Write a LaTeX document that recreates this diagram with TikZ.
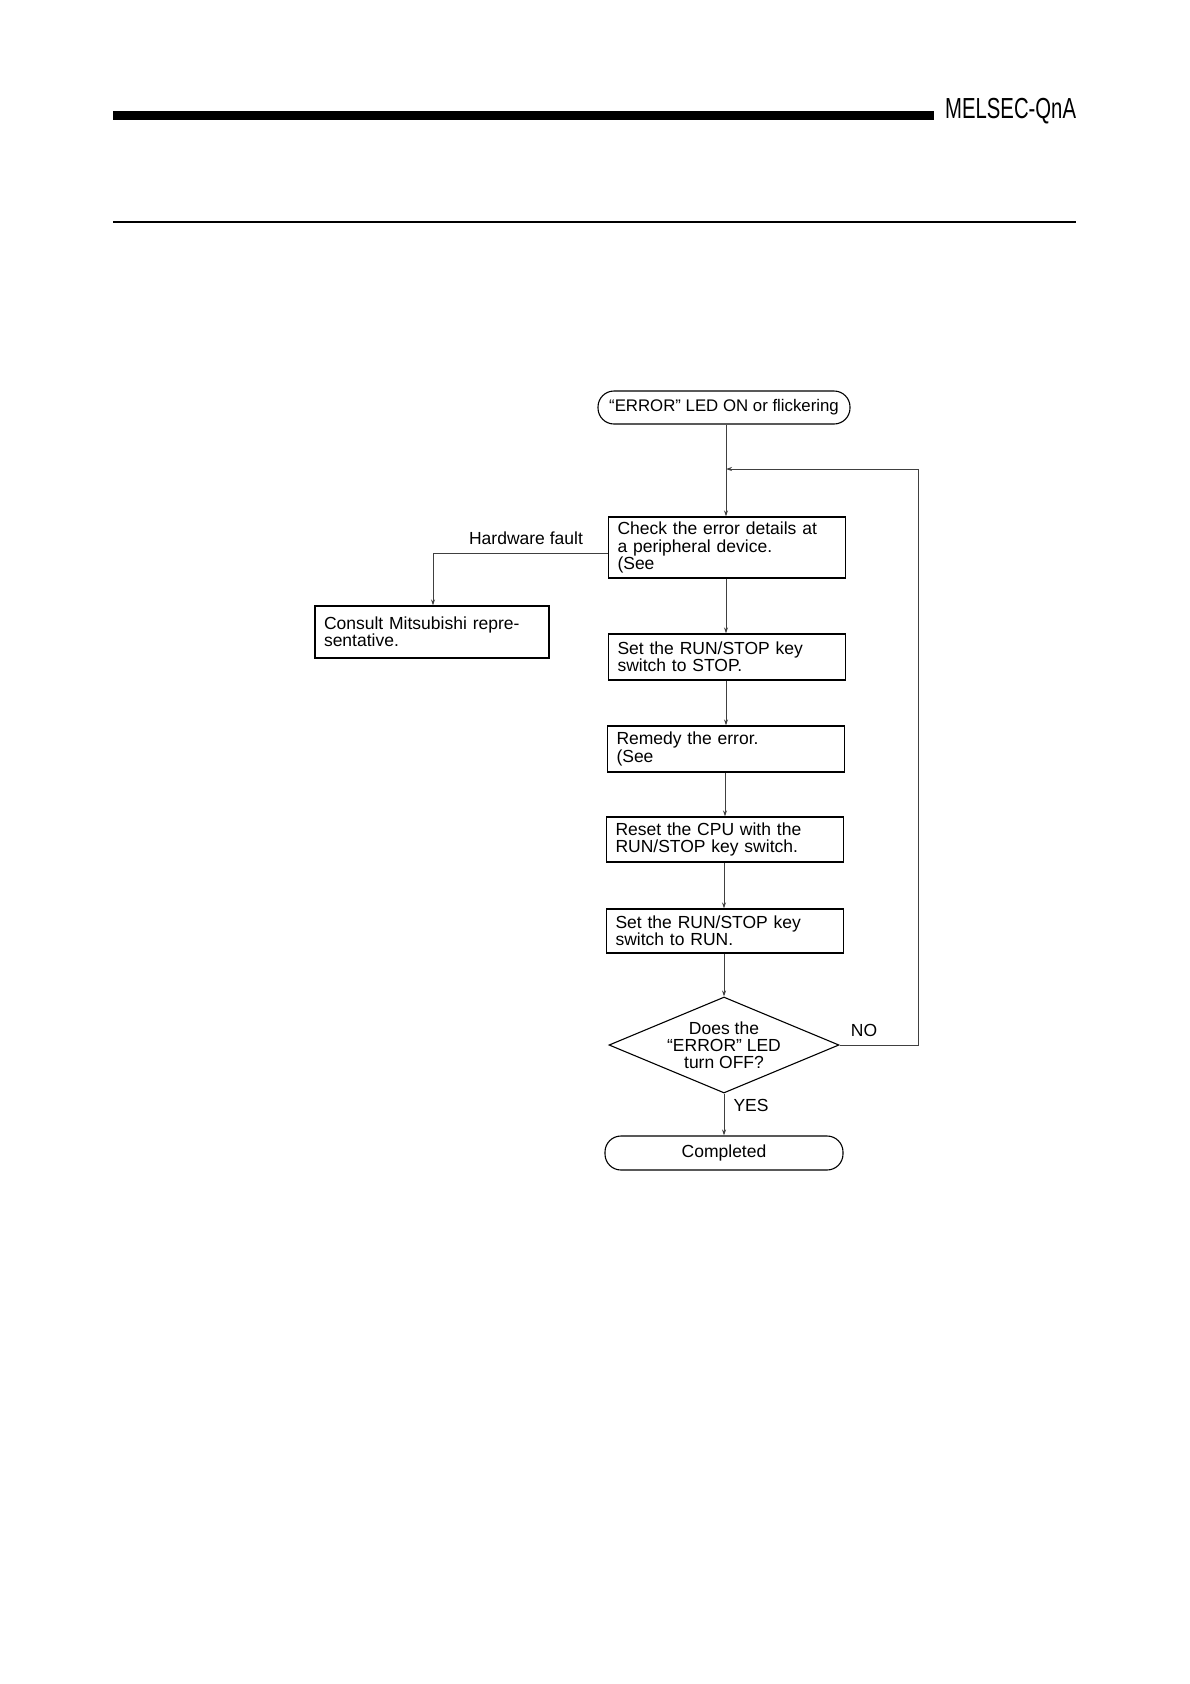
\documentclass[tikz,border=0pt]{standalone}
\usepackage{fontspec}
\setmainfont{Liberation Sans}
\usetikzlibrary{arrows.meta,shapes.geometric}
\begin{document}
\begin{tikzpicture}[x=1pt,y=-1pt,
  every node/.style={font=\fontsize{17.5}{17.2}\selectfont},
  procbox/.style={draw=black,line width=1.4pt,rectangle,inner xsep=9pt,inner ysep=0pt,align=left,text width=#1},
  term/.style={draw=black,line width=1.1pt,rectangle,rounded corners=16pt,inner sep=0pt},
  decision/.style={draw=black,line width=1.1pt,diamond,aspect=2.4,inner sep=0pt,align=center,minimum width=230pt,minimum height=96pt},
  conn/.style={draw=black!75,line width=0.8pt,-{Stealth[length=6pt,width=4pt]}},
  plain/.style={draw=black!75,line width=0.8pt},
  lbl/.style={inner sep=0pt}
]
\useasboundingbox (0,0) rectangle (1190,1684);
% header
\fill[black] (113,111) rectangle (934,120);
\node[lbl,anchor=west] (hdr) at (945,111) {\scalebox{0.7}[1]{\fontsize{29}{29}\selectfont MELSEC-QnA}};
\draw[line width=1.6pt] (113,222) -- (1076,222);

% nodes
\node[term,minimum width=252pt,minimum height=33pt,font=\fontsize{16.8}{17}\selectfont] (start) at (724,407.5) {“ERROR” LED ON or flickering};
\node[procbox=219pt,minimum height=61pt] (b1) at (727,547.5) {Check the error details at\\a peripheral device.\\(See};
\node[procbox=216pt,minimum height=52pt] (cons) at (432,632) {Consult Mitsubishi repre-\\sentative.\\[9pt]};
\node[procbox=219pt,minimum height=46pt] (b2) at (727,657) {Set the RUN/STOP key\\switch to STOP.};
\node[procbox=219pt,minimum height=46pt] (b3) at (726,749) {Remedy the error.\\(See};
\node[procbox=219pt,minimum height=45pt] (b4) at (725,839.5) {Reset the CPU with the\\RUN/STOP key switch.};
\node[procbox=219pt,minimum height=44pt] (b5) at (725,931) {Set the RUN/STOP key\\switch to RUN.};
\node[decision] (dec) at (724,1045) {\fontsize{17.5}{18.3}\selectfont Does the\\“ERROR” LED\\turn OFF?};
\node[term,minimum width=238pt,minimum height=34pt] (done) at (724,1153) {Completed};

% labels
\node[lbl] (hw) at (526,538) {Hardware fault};
\node[lbl] (no) at (864,1030) {NO};
\node[lbl] (yes) at (751,1105) {YES};

% connectors
\coordinate (join) at (726,469);
\coordinate (hwc) at (433,553);
\coordinate (noc) at (918,1045);
\draw[conn] (start.south -| join) -- (b1.north -| join);
\draw[plain] (b1.west |- hwc) -- (hwc);
\draw[conn] (hwc) -- (cons.north -| hwc);
\draw[conn] (b1.south -| join) -- (b2.north -| join);
\draw[conn] (b2.south -| join) -- (b3.north -| join);
\draw[conn] (b3.south -| 725,0) -- (b4.north -| 725,0);
\draw[conn] (b4.south -| 724,0) -- (b5.north -| 724,0);
\draw[conn] (b5.south -| dec) -- (dec.north);
\draw[conn] (dec.south) -- (done.north);
\draw[conn] (dec.east) -- (noc) -- (918,469) -- (join);
\end{tikzpicture}
\end{document}
